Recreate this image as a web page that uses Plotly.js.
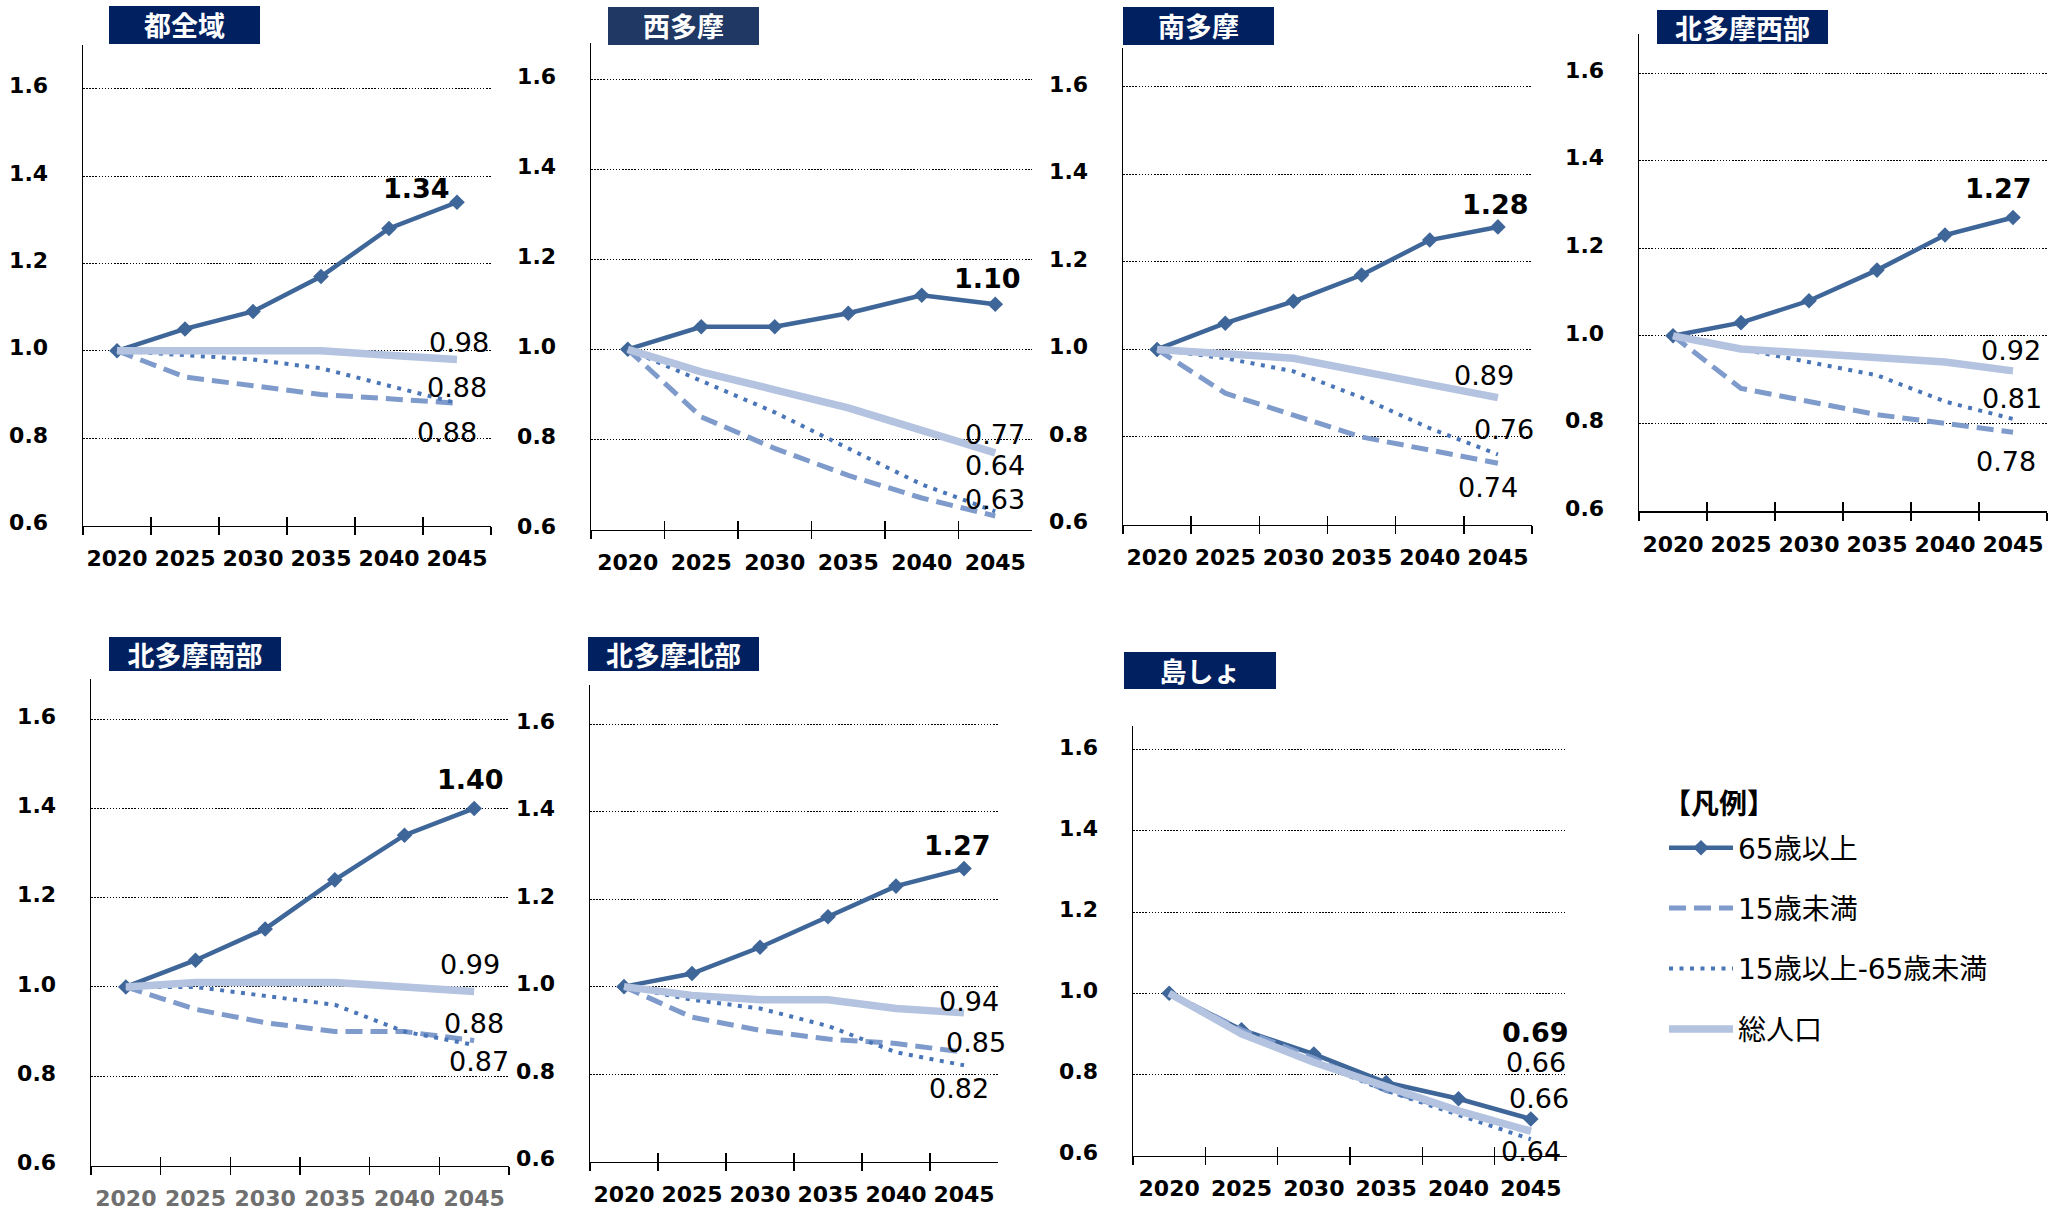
<!DOCTYPE html>
<html>
<head>
<meta charset="utf-8">
<script src="https://cdn.plot.ly/plotly-3.0.1.min.js"></script>
<style>html,body{margin:0;padding:0;background:#fff;}</style>
</head>
<body>
<div id="chart" style="width:2053px;height:1212px;"></div>
<script>
// ---------------- DATA ----------------
const years = ['2020', '2025', '2030', '2035', '2040', '2045'];
const regions = ['都全域', '西多摩', '南多摩', '北多摩西部', '北多摩南部', '北多摩北部', '島しょ'];
const seriesNames = ['65歳以上', '15歳未満', '15歳以上-65歳未満', '総人口'];
const legendTitle = '【凡例】';
const yTicks = [0.6, 0.8, 1.0, 1.2, 1.4, 1.6];

// rows follow the order of `regions`
const over65 = [
  [1.00, 1.05, 1.09, 1.17, 1.28, 1.34],
  [1.00, 1.05, 1.05, 1.08, 1.12, 1.10],
  [1.00, 1.06, 1.11, 1.17, 1.25, 1.28],
  [1.00, 1.03, 1.08, 1.15, 1.23, 1.27],
  [1.00, 1.06, 1.13, 1.24, 1.34, 1.40],
  [1.00, 1.03, 1.09, 1.16, 1.23, 1.27],
  [1.00, 0.91, 0.85, 0.78, 0.74, 0.69]
];
const under15 = [
  [1.00, 0.94, 0.92, 0.90, 0.89, 0.88],
  [1.00, 0.85, 0.78, 0.72, 0.67, 0.63],
  [1.00, 0.90, 0.85, 0.80, 0.77, 0.74],
  [1.00, 0.88, 0.85, 0.82, 0.80, 0.78],
  [1.00, 0.95, 0.92, 0.90, 0.90, 0.88],
  [1.00, 0.93, 0.90, 0.88, 0.87, 0.85],
  [1.00, 0.91, 0.84, 0.76, 0.71, 0.66]
];
const working = [
  [1.00, 0.99, 0.98, 0.96, 0.92, 0.88],
  [1.00, 0.93, 0.86, 0.78, 0.70, 0.64],
  [1.00, 0.98, 0.95, 0.89, 0.82, 0.76],
  [1.00, 0.97, 0.94, 0.91, 0.85, 0.81],
  [1.00, 1.00, 0.98, 0.96, 0.90, 0.87],
  [1.00, 0.97, 0.95, 0.91, 0.85, 0.82],
  [1.00, 0.90, 0.83, 0.76, 0.70, 0.64]
];
const total = [
  [1.00, 1.00, 1.00, 1.00, 0.99, 0.98],
  [1.00, 0.95, 0.91, 0.87, 0.82, 0.77],
  [1.00, 0.99, 0.98, 0.95, 0.92, 0.89],
  [1.00, 0.97, 0.96, 0.95, 0.94, 0.92],
  [1.00, 1.01, 1.01, 1.01, 1.00, 0.99],
  [1.00, 0.98, 0.97, 0.97, 0.95, 0.94],
  [1.00, 0.90, 0.83, 0.77, 0.71, 0.66]
];

// ---------------- LAYOUT / STYLE ----------------
const W = 2053, H = 1212;
const FONT = 'DejaVu Sans, Verdana, Noto Sans CJK JP, sans-serif';
const JFONT = 'Noto Sans CJK JP, sans-serif';

// plot areas in px
const panelGeo = [
  {l: 83,   r: 491,  t: 45,    b: 525.5,  ymax: 1.70},
  {l: 591,  r: 1032, t: 43,    b: 529.5,  ymax: 1.68},
  {l: 1123, r: 1532, t: 47.5,  b: 524.5,  ymax: 1.69},
  {l: 1639, r: 2047, t: 33.6,  b: 511,    ymax: 1.69},
  {l: 91,   r: 509,  t: 679,   b: 1165.5, ymax: 1.69},
  {l: 590,  r: 998,  t: 685,   b: 1161.5, ymax: 1.69},
  {l: 1133, r: 1567, t: 725.5, b: 1155.5, ymax: 1.66}
];
const boxGeo = [
  {l: 109,  w: 151, t: 6,   h: 37.5, c: '#002060'},
  {l: 608,  w: 151, t: 7.3, h: 37.6, c: '#203864'},
  {l: 1123, w: 151, t: 7.3, h: 37.6, c: '#002060'},
  {l: 1657, w: 171, t: 10,  h: 34,   c: '#002060'},
  {l: 109,  w: 172, t: 637, h: 34,   c: '#002060'},
  {l: 588,  w: 171, t: 637, h: 34,   c: '#002060'},
  {l: 1124, w: 152, t: 652, h: 37,   c: '#002060'}
];
const xTickColor = ['#000', '#000', '#000', '#000', '#6f6f6f', '#000', '#000'];

// end-label offsets [dx, dy(down)] per panel, order: over65, under15, working, total
const labelOff = [
  [[-41, -14], [-10, 29], [0, -16], [2, -17.5]],
  [[-8, -26], [0, -16], [0, -46], [0, -18]],
  [[-2, -22], [-10, 24], [6, -24.5], [-14, -22]],
  [[-15, -29], [-7, 29], [-1, -21], [-2, -20]],
  [[-4, -28.5], [0, -17], [5, 17], [-4, -26.6]],
  [[-7, -23], [12, -9.5], [-5, 23], [5, -11.4]],
  [[5, -86], [8, -33], [0, 12], [5, -69]]
];

const seriesData = [over65, under15, working, total];
const seriesStyle = [
  {mode: 'lines+markers', line: {color: '#3F6698', width: 4.5}, marker: {symbol: 'diamond', size: 12, color: '#3F6698'}},
  {mode: 'lines', line: {color: '#7F9BCB', width: 5, dash: '17px,8px'}},
  {mode: 'lines', line: {color: '#4A76B8', width: 4, dash: '4px,6.5px'}},
  {mode: 'lines', line: {color: '#B4C3DF', width: 7.5}}
];

const traces = [];
const layout = {
  width: W, height: H,
  margin: {l: 0, r: 0, t: 0, b: 0},
  paper_bgcolor: '#fff',
  plot_bgcolor: 'rgba(0,0,0,0)',
  font: {family: FONT, color: '#000'},
  showlegend: true,
  legend: {
    x: 1664 / W, y: 1 - 823 / H, xanchor: 'left', yanchor: 'top',
    font: {family: FONT, size: 28, color: '#000'},
    traceorder: 'grouped', tracegroupgap: 21, itemwidth: 64,
    bgcolor: 'rgba(0,0,0,0)'
  },
  annotations: [{
    xref: 'paper', yref: 'paper', x: 1661 / W, y: 1 - 802 / H,
    xanchor: 'left', yanchor: 'middle', showarrow: false,
    text: legendTitle,
    font: {family: JFONT, size: 28, weight: 'bold', color: '#000'}
  }]
};

const px2x = p => p / W;
const px2y = p => 1 - p / H;

panelGeo.forEach((g, i) => {
  const n = i + 1;
  const xName = n === 1 ? 'x' : 'x' + n;
  const yName = n === 1 ? 'y' : 'y' + n;
  const xKey = n === 1 ? 'xaxis' : 'xaxis' + n;
  const yKey = n === 1 ? 'yaxis' : 'yaxis' + n;

  layout[xKey] = {
    type: 'category', domain: [px2x(g.l), px2x(g.r)], anchor: yName,
    range: [-0.5, years.length - 0.5],
    tickson: 'boundaries', ticks: 'outside', ticklen: 8, tickwidth: 1.5, tickcolor: '#000',
    showline: true, linecolor: '#000', linewidth: 1.5,
    showgrid: false, zeroline: false, fixedrange: true,
    tickangle: 0, ticklabelstandoff: 13,
    tickfont: {family: FONT, size: 22, weight: 'bold', color: xTickColor[i]}
  };
  layout[yKey] = {
    domain: [px2y(g.b), px2y(g.t)], anchor: xName,
    range: [0.6, g.ymax], tickvals: yTicks, ticktext: yTicks.map(v => v.toFixed(1)),
    ticks: '', showline: true, linecolor: '#000', linewidth: 1.5,
    showgrid: true, gridcolor: '#000', gridwidth: 1, griddash: '1.5px,1.6px',
    zeroline: false, fixedrange: true,
    ticklabelstandoff: 29, ticklabelshift: -3,
    tickfont: {family: FONT, size: 22, weight: 'bold', color: '#000'}
  };

  // overlay axis for the inner half of the crossing tick marks
  const oKey = 'xaxis' + (8 + i);
  const oName = 'x' + (8 + i);
  layout[oKey] = {
    type: 'linear', overlaying: xName, anchor: yName, side: 'bottom',
    range: [-0.5, years.length - 0.5],
    tickvals: years.map((_, k) => k - 0.5).concat([years.length - 0.5]),
    ticks: 'inside', ticklen: 9, tickwidth: 1.5, tickcolor: '#000',
    showticklabels: false, showline: false, showgrid: false, zeroline: false, fixedrange: true
  };
  traces.push({x: [], y: [], xaxis: oName, yaxis: yName, showlegend: false, hoverinfo: 'skip', mode: 'lines'});

  seriesData.forEach((arr, s) => {
    const st = seriesStyle[s];
    const tr = {
      type: 'scatter', x: years, y: arr[i], xaxis: xName, yaxis: yName,
      name: seriesNames[s], legendgroup: 'g' + s, showlegend: i === 0,
      mode: st.mode, line: Object.assign({}, st.line), hoverinfo: 'x+y+name'
    };
    if (st.marker) tr.marker = Object.assign({}, st.marker);
    traces.push(tr);

    const last = arr[i][arr[i].length - 1];
    const off = labelOff[i][s];
    layout.annotations.push({
      xref: xName, yref: yName, x: years.length - 1, y: last,
      text: last.toFixed(2), showarrow: false,
      xshift: off[0], yshift: -off[1],
      font: {family: FONT, size: 27, color: '#000', weight: s === 0 ? 'bold' : 'normal'}
    });
  });

  // region title box
  const bx = boxGeo[i];
  layout.annotations.push({
    xref: 'paper', yref: 'paper', x: px2x(bx.l), y: px2y(bx.t),
    xanchor: 'left', yanchor: 'top', width: bx.w, height: bx.h,
    bgcolor: bx.c, borderpad: 0, borderwidth: 0, showarrow: false,
    align: 'center', valign: 'middle',
    text: regions[i],
    font: {family: JFONT, size: 27, weight: 'bold', color: '#fff'}
  });
});

Plotly.newPlot('chart', traces, layout, {staticPlot: true, displayModeBar: false});
</script>
</body>
</html>
